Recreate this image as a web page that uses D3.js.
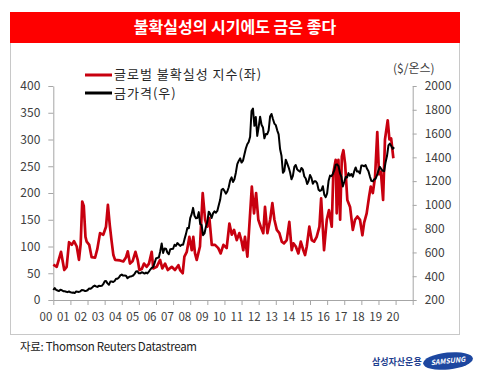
<!DOCTYPE html>
<html>
<head>
<meta charset="utf-8">
<script src="https://cdn.jsdelivr.net/npm/d3@7"></script>
<style>
  body { margin: 0; background: #fff; }
  svg text { font-family: "Noto Sans CJK KR", "Noto Sans", sans-serif; }
  .axis path, .axis line { stroke: #a6a6a6; }
  .axis text { fill: #404040; font-size: 12px; }
</style>
</head>
<body>
<div id="chart"></div>
<script>
// Global uncertainty index (left axis) vs gold price in $/oz (right axis), 2000-2019.

const title = "불확실성의 시기에도 금은 좋다";
const seriesNames = ["글로벌 불확실성 지수(좌)", "금가격(우)"];
const rightUnit = "($/온스)";
const source = "자료: Thomson Reuters Datastream";

const leftTicks = [0, 50, 100, 150, 200, 250, 300, 350, 400];
const rightTicks = [200, 400, 600, 800, 1000, 1200, 1400, 1600, 1800, 2000];
const years = d3.range(2000, 2022);
const yearLabels = d3.range(0, 21).map((d) => String(d).padStart(2, "0"));

// gold, monthly, Jan 2000 .. Dec 2019
const gold = [
  284, 300, 286, 280, 275, 286, 282, 274, 273, 270, 266, 272,
  265, 262, 263, 258, 272, 270, 268, 273, 284, 283, 276, 276,
  282, 296, 294, 302, 314, 321, 314, 310, 319, 317, 319, 333,
  357, 359, 340, 328, 355, 356, 351, 360, 379, 379, 389, 407,
  414, 405, 406, 404, 384, 392, 398, 400, 406, 420, 439, 442,
  424, 424, 434, 429, 422, 431, 424, 438, 456, 470, 476, 510,
  549, 555, 557, 610, 676, 596, 633, 632, 598, 585, 627, 629,
  631, 665, 655, 679, 667, 655, 665, 665, 712, 754, 806, 803,
  889, 922, 975, 909, 888, 889, 939, 839, 830, 745, 760, 816,
  858, 943, 925, 890, 928, 945, 934, 949, 996, 1043, 1127, 1135,
  1118, 1095, 1113, 1148, 1205, 1232, 1193, 1215, 1271, 1343, 1370, 1391,
  1356, 1372, 1424, 1474, 1510, 1529, 1573, 1790, 1810, 1665, 1739, 1580,
  1656, 1742, 1674, 1651, 1560, 1596, 1594, 1626, 1744, 1765, 1722, 1684,
  1671, 1627, 1593, 1470, 1414, 1270, 1286, 1380, 1349, 1316, 1275, 1215,
  1244, 1320, 1336, 1299, 1287, 1279, 1311, 1296, 1239, 1222, 1176, 1201,
  1251, 1227, 1178, 1198, 1199, 1181, 1128, 1118, 1125, 1157, 1086, 1065,
  1097, 1200, 1246, 1242, 1260, 1290, 1337, 1341, 1326, 1267, 1236, 1155,
  1192, 1234, 1231, 1267, 1246, 1260, 1237, 1283, 1315, 1280, 1282, 1265,
  1331, 1331, 1325, 1335, 1303, 1282, 1238, 1202, 1198, 1215, 1220, 1250,
  1291, 1320, 1300, 1286, 1284, 1359, 1413, 1500, 1515, 1495, 1471, 1485,
];

// uncertainty index readings: [decimal year, value]
const uncertainty = [
  [2000.00, 66], [2000.20, 62], [2000.45, 90], [2000.64, 56], [2000.78, 62], [2000.92, 108],
  [2001.08, 103], [2001.21, 110], [2001.37, 100], [2001.50, 75], [2001.60, 105], [2001.69, 184],
  [2001.78, 176], [2001.88, 118], [2001.95, 109], [2002.10, 103], [2002.24, 80], [2002.44, 79],
  [2002.57, 95], [2002.73, 125], [2002.92, 122], [2003.08, 137], [2003.19, 178], [2003.30, 140],
  [2003.40, 112], [2003.51, 84], [2003.61, 75], [2003.90, 74], [2004.09, 72], [2004.25, 80],
  [2004.35, 91], [2004.48, 68], [2004.64, 73], [2004.80, 90], [2004.93, 75], [2005.03, 56],
  [2005.17, 58], [2005.30, 68], [2005.46, 62], [2005.59, 68], [2005.75, 90], [2005.84, 59],
  [2006.04, 62], [2006.24, 75], [2006.37, 59], [2006.53, 68], [2006.69, 56], [2006.92, 62],
  [2007.11, 56], [2007.31, 65], [2007.41, 56], [2007.56, 50], [2007.66, 81], [2007.80, 90],
  [2007.95, 118], [2008.09, 93], [2008.18, 118], [2008.28, 87], [2008.38, 75], [2008.57, 100],
  [2008.73, 200], [2008.87, 150], [2009.00, 137], [2009.12, 153], [2009.26, 103], [2009.45, 103],
  [2009.64, 97], [2009.78, 87], [2009.94, 103], [2010.13, 97], [2010.29, 143], [2010.43, 122],
  [2010.56, 131], [2010.72, 112], [2010.87, 125], [2011.00, 110], [2011.10, 93], [2011.20, 118],
  [2011.34, 81], [2011.60, 212], [2011.73, 162], [2011.85, 200], [2011.98, 150], [2012.12, 137],
  [2012.27, 125], [2012.37, 174], [2012.51, 125], [2012.67, 150], [2012.80, 181], [2012.92, 150],
  [2013.06, 131], [2013.21, 125], [2013.35, 109], [2013.48, 106], [2013.64, 112], [2013.79, 146],
  [2013.93, 93], [2014.03, 106], [2014.17, 100], [2014.32, 87], [2014.46, 109], [2014.61, 93],
  [2014.71, 84], [2014.81, 100], [2014.96, 137], [2015.10, 112], [2015.24, 109], [2015.39, 118],
  [2015.55, 137], [2015.65, 190], [2015.82, 93], [2015.98, 150], [2016.11, 168], [2016.27, 137],
  [2016.36, 237], [2016.50, 262], [2016.56, 162], [2016.66, 262], [2016.76, 150], [2016.86, 268],
  [2016.95, 280], [2017.05, 255], [2017.18, 187], [2017.34, 174], [2017.50, 131], [2017.63, 150],
  [2017.77, 156], [2017.92, 150], [2018.06, 121], [2018.16, 144], [2018.31, 162], [2018.45, 193],
  [2018.55, 212], [2018.67, 200], [2018.80, 230], [2018.93, 314], [2019.03, 235], [2019.14, 240],
  [2019.27, 187], [2019.38, 300], [2019.54, 336], [2019.64, 300], [2019.74, 302], [2019.87, 265],
];

const W = 485, H = 375;
const svg = d3.select("#chart").append("svg").attr("width", W).attr("height", H);

// frame + title bar
svg.append("rect").attr("x", 10.5).attr("y", 12.5).attr("width", 449).attr("height", 322)
  .attr("fill", "#fff").attr("stroke", "#c8c8c8");
svg.append("rect").attr("x", 10).attr("y", 12).attr("width", 450).attr("height", 31).attr("fill", "#fe0000");
svg.append("text").attr("x", 235).attr("y", 33).attr("text-anchor", "middle")
  .attr("fill", "#fff").attr("font-size", 16).attr("font-weight", 700).text(title);

const x = d3.scaleLinear().domain([2000, 2021]).range([53.3, 412.7]);
const yL = d3.scaleLinear().domain([0, 400]).range([300, 86]);
const yR = d3.scaleLinear().domain([200, 2000]).range([300, 86]);
const xLab = d3.scalePoint().domain(yearLabels).range([46, 393]);

svg.append("g").attr("class", "axis").attr("transform", `translate(${x.range()[0]},0)`)
  .call(d3.axisLeft(yL).tickValues(leftTicks).tickSize(5).tickSizeOuter(0).tickPadding(8));
svg.append("g").attr("class", "axis").attr("transform", `translate(${x.range()[1]},0)`)
  .call(d3.axisRight(yR).tickValues(rightTicks).tickFormat(d3.format("d"))
    .tickSize(4).tickSizeOuter(0).tickPadding(8));
svg.append("g").attr("class", "axis").attr("transform", `translate(0,${yL(0)})`)
  .call(d3.axisBottom(x).tickValues(years).tickSize(5).tickSizeOuter(0).tickFormat(""));

svg.append("g").selectAll("text").data(yearLabels).join("text")
  .attr("x", (d) => xLab(d)).attr("y", 321).attr("text-anchor", "middle")
  .attr("fill", "#404040").attr("font-size", 11.5).text((d) => d);

// lines
svg.append("path").datum(uncertainty)
  .attr("fill", "none").attr("stroke", "#c8000f").attr("stroke-width", 2.7).attr("stroke-linejoin", "round")
  .attr("d", d3.line().x((d) => x(d[0])).y((d) => yL(d[1])));
svg.append("path").datum(gold)
  .attr("fill", "none").attr("stroke", "#000").attr("stroke-width", 2).attr("stroke-linejoin", "round")
  .attr("d", d3.line().x((d, i) => x(2000 + i / 12)).y((d) => yR(d)));

// legend
const legend = svg.append("g");
[["#c8000f", 75, 78.5], ["#000", 93, 98]].forEach(([c, yy, ty], i) => {
  legend.append("line").attr("x1", 85).attr("x2", 112).attr("y1", yy).attr("y2", yy)
    .attr("stroke", c).attr("stroke-width", 3);
  legend.append("text").attr("x", 114).attr("y", ty).attr("font-size", 13).attr("letter-spacing", 1)
    .attr("fill", "#262626").text(seriesNames[i]);
});
svg.append("text").attr("x", 393).attr("y", 73).attr("font-size", 12).attr("fill", "#404040").text(rightUnit);

// footer
svg.append("text").attr("x", 20).attr("y", 351).attr("font-size", 11.5).attr("letter-spacing", -0.3)
  .attr("fill", "#222").text(source);
svg.append("text").attr("x", 372).attr("y", 365).attr("font-size", 9).attr("font-weight", 700)
  .attr("fill", "#1f3f8f").text("삼성자산운용");
const logo = svg.append("g").attr("transform", "translate(448,361) rotate(-6)");
logo.append("ellipse").attr("rx", 25).attr("ry", 8.5).attr("fill", "#1d47a0");
logo.append("text").attr("y", 2.5).attr("text-anchor", "middle").attr("fill", "#fff")
  .attr("font-size", 7).attr("font-weight", 700).attr("font-style", "italic").text("SAMSUNG");
</script>
</body>
</html>
